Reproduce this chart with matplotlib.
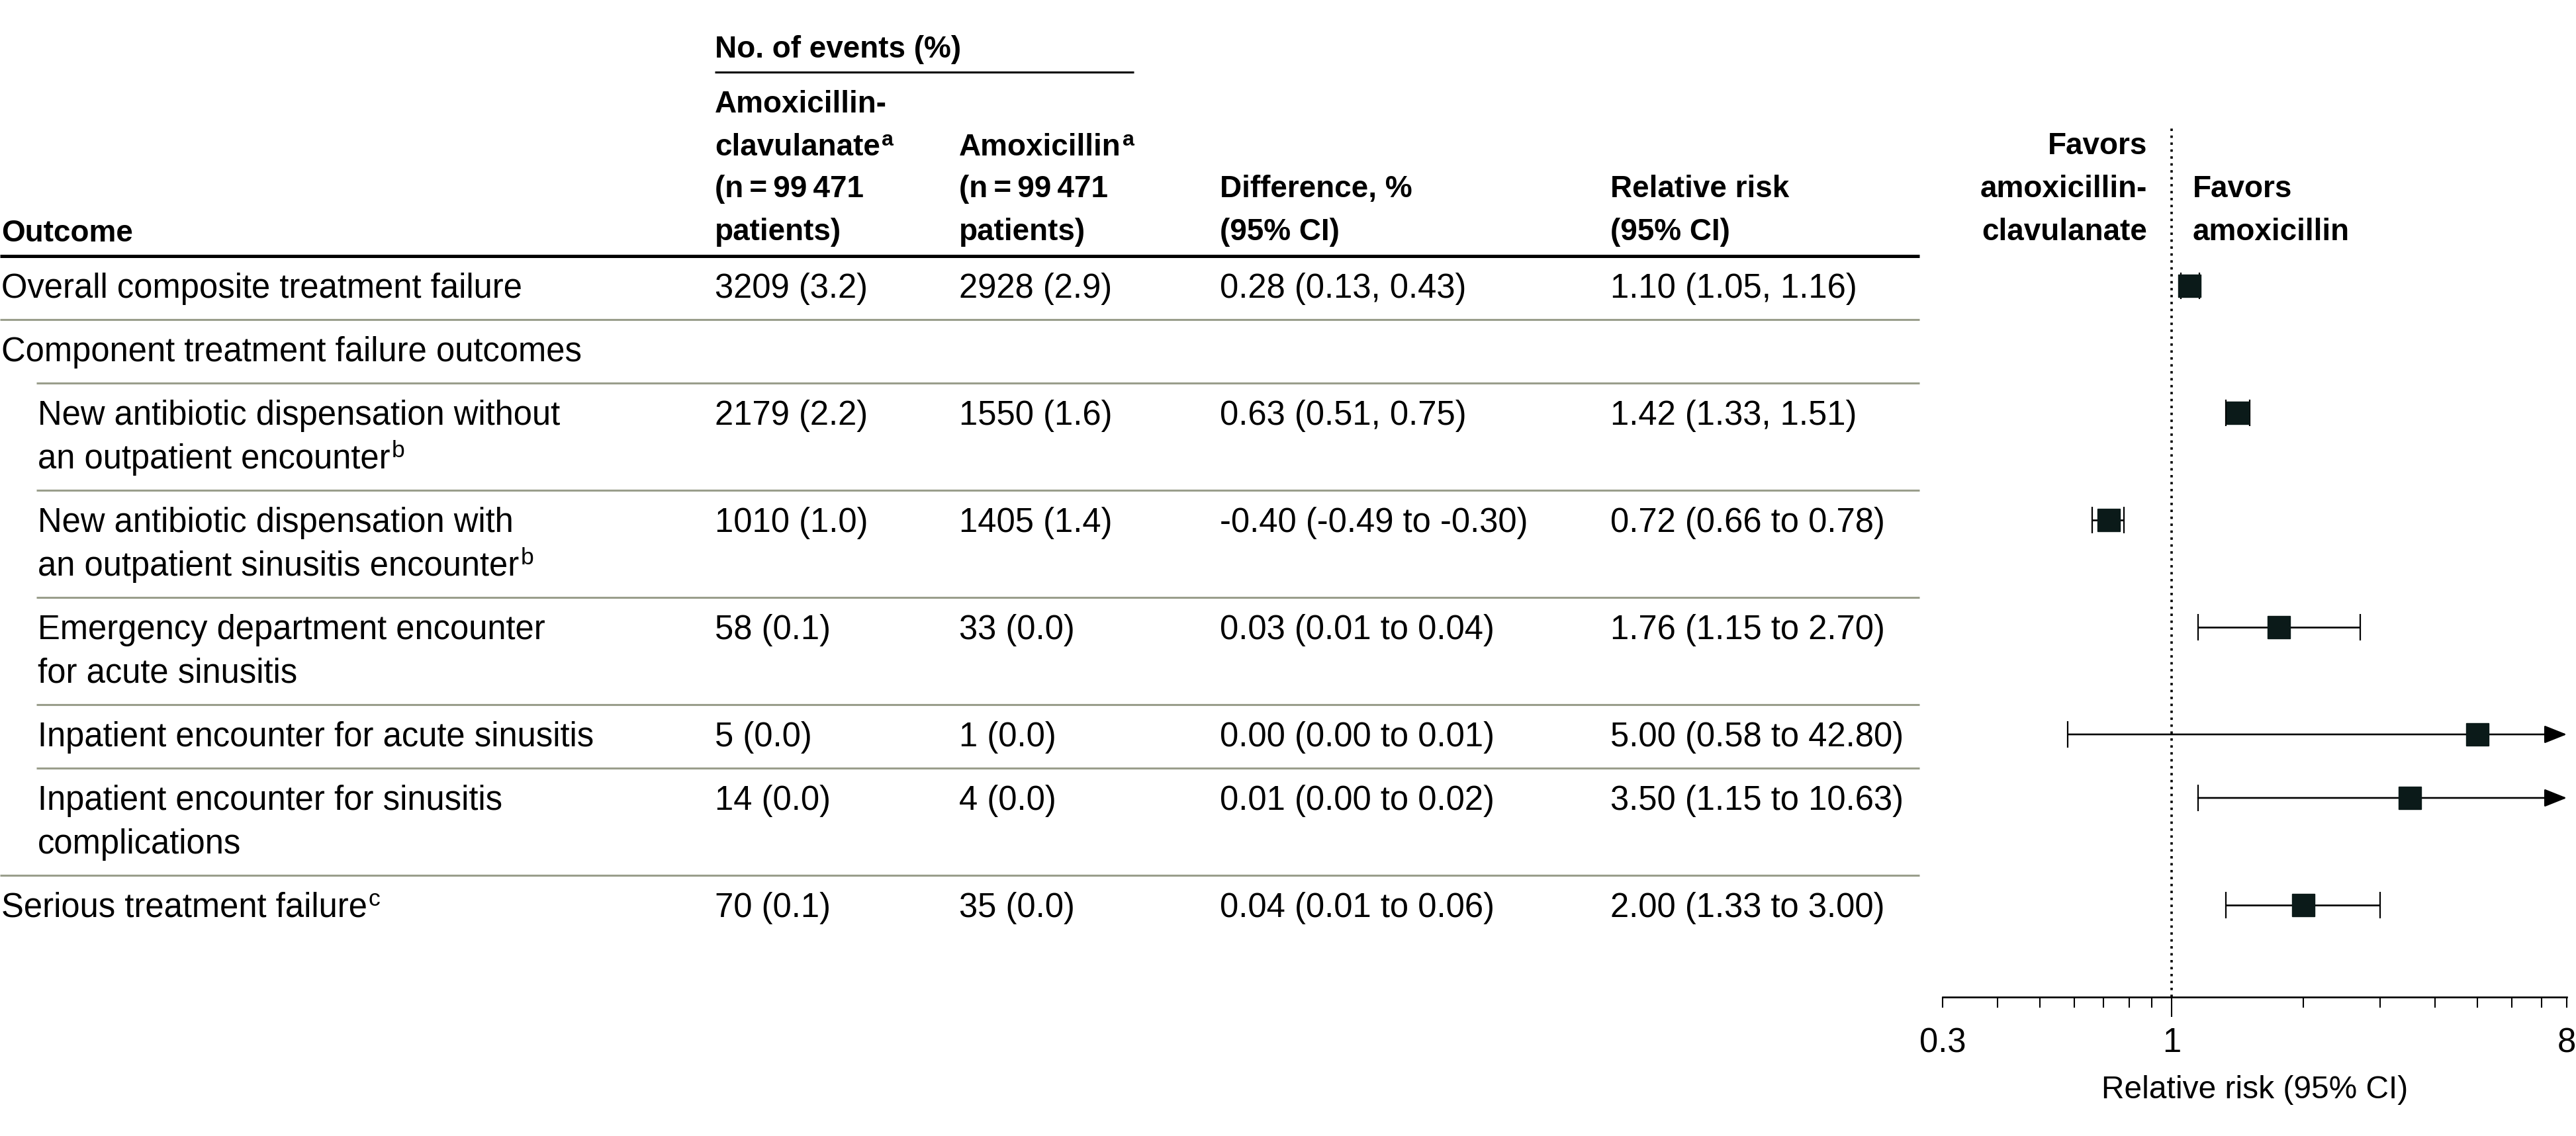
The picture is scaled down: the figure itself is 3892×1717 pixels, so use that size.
import numpy as np
import matplotlib
matplotlib.use("Agg")
import matplotlib.pyplot as plt
from matplotlib.lines import Line2D
from matplotlib.ticker import FixedLocator, FixedFormatter, NullFormatter

# ---------------- data ----------------
outcomes = [
    ["Overall composite treatment failure"],
    ["Component treatment failure outcomes"],
    ["New antibiotic dispensation without", "an outpatient encounter"],
    ["New antibiotic dispensation with", "an outpatient sinusitis encounter"],
    ["Emergency department encounter", "for acute sinusitis"],
    ["Inpatient encounter for acute sinusitis"],
    ["Inpatient encounter for sinusitis", "complications"],
    ["Serious treatment failure"],
]
outcome_indent = [0, 0, 1, 1, 1, 1, 1, 0]
outcome_sup = ["", "", "b", "b", "", "", "", "c"]

amoxclav_events = ["3209 (3.2)", "", "2179 (2.2)", "1010 (1.0)", "58 (0.1)",
                   "5 (0.0)", "14 (0.0)", "70 (0.1)"]
amox_events = ["2928 (2.9)", "", "1550 (1.6)", "1405 (1.4)", "33 (0.0)",
               "1 (0.0)", "4 (0.0)", "35 (0.0)"]
difference = ["0.28 (0.13, 0.43)", "", "0.63 (0.51, 0.75)",
              "-0.40 (-0.49 to -0.30)", "0.03 (0.01 to 0.04)",
              "0.00 (0.00 to 0.01)", "0.01 (0.00 to 0.02)",
              "0.04 (0.01 to 0.06)"]
rr_text = ["1.10 (1.05, 1.16)", "", "1.42 (1.33, 1.51)", "0.72 (0.66 to 0.78)",
           "1.76 (1.15 to 2.70)", "5.00 (0.58 to 42.80)",
           "3.50 (1.15 to 10.63)", "2.00 (1.33 to 3.00)"]
rr = [1.10, np.nan, 1.42, 0.72, 1.76, 5.00, 3.50, 2.00]
rr_lo = [1.05, np.nan, 1.33, 0.66, 1.15, 0.58, 1.15, 1.33]
rr_hi = [1.16, np.nan, 1.51, 0.78, 2.70, 42.80, 10.63, 3.00]

x_major = [0.3, 1, 8]
x_major_labels = ["0.3", "1", "8"]
x_minor = [0.4, 0.5, 0.6, 0.7, 0.8, 0.9, 2, 3, 4, 5, 6, 7]
x_limits = (0.3, 8)

# ---------------- style / layout ----------------
W, H, DPI = 3892, 1717, 100
plt.rcParams["font.family"] = ["Liberation Sans", "DejaVu Sans"]
BODY = 36.5
HEAD = 33
INK = "black"
SEP = "#9a9e8c"
MARK = "#0b1a19"

fig = plt.figure(figsize=(W / DPI, H / DPI), dpi=DPI)
renderer = fig.canvas.get_renderer()


def fx(x):
    return x / W


def fy(y):
    return 1 - y / H


def txt(x, y, s, size=BODY, weight="normal", ha="left", sup=None):
    t = fig.text(fx(x), fy(y), s, fontsize=size, fontweight=weight, ha=ha,
                 va="baseline", color=INK)
    if sup:
        bb = t.get_window_extent(renderer=renderer)
        fig.text((bb.x1 + 2) / W, fy(y - size / 0.72 * 0.33), sup,
                 fontsize=size * 0.7, fontweight=weight, ha="left",
                 va="baseline", color=INK)
    return t


def hline(x0, x1, y, lw, color):
    fig.add_artist(Line2D([fx(x0), fx(x1)], [fy(y), fy(y)],
                          transform=fig.transFigure, lw=lw, color=color,
                          solid_capstyle="butt"))


col_x = [2, 1080, 1449, 1843, 2433]
indent_px = 55
line_h = 66
table_right = 2900

# header
txt(col_x[1], 87, "No. of events (%)", size=HEAD, weight="bold")
hline(col_x[1], 1713, 109, 2.2, INK)
txt(col_x[1], 170, "Amoxicillin-", size=HEAD, weight="bold")
txt(col_x[1], 235, "clavulanate", size=HEAD, weight="bold", sup="a")
txt(col_x[1], 298, "(n\u2009=\u200999\u2009471", size=HEAD, weight="bold")
txt(col_x[1], 363, "patients)", size=HEAD, weight="bold")
txt(col_x[2], 235, "Amoxicillin", size=HEAD, weight="bold", sup="a")
txt(col_x[2], 298, "(n\u2009=\u200999\u2009471", size=HEAD, weight="bold")
txt(col_x[2], 363, "patients)", size=HEAD, weight="bold")
txt(col_x[0], 365, "Outcome", size=HEAD, weight="bold")
txt(col_x[3], 298, "Difference, %", size=HEAD, weight="bold")
txt(col_x[3], 363, "(95% CI)", size=HEAD, weight="bold")
txt(col_x[4], 298, "Relative risk", size=HEAD, weight="bold")
txt(col_x[4], 363, "(95% CI)", size=HEAD, weight="bold")
header_line_y = 387
hline(0, table_right, header_line_y, 3.6, INK)

# favors labels
txt(3244, 233, "Favors", size=HEAD, weight="bold", ha="right")
txt(3244, 298, "amoxicillin-", size=HEAD, weight="bold", ha="right")
txt(3244, 363, "clavulanate", size=HEAD, weight="bold", ha="right")
txt(3313, 298, "Favors", size=HEAD, weight="bold")
txt(3313, 363, "amoxicillin", size=HEAD, weight="bold")

# body rows
y_top = header_line_y
marker_y = []
for i, lines in enumerate(outcomes):
    if i > 0:
        hline(indent_px if outcome_indent[i] else 0, table_right, y_top, 2.2, SEP)
    base = y_top + 63
    x0 = col_x[0] + (indent_px if outcome_indent[i] else 0)
    for j, ln in enumerate(lines):
        last = j == len(lines) - 1
        txt(x0, base + j * line_h, ln, sup=outcome_sup[i] if last else None)
    txt(col_x[1], base, amoxclav_events[i])
    txt(col_x[2], base, amox_events[i])
    txt(col_x[3], base, difference[i])
    txt(col_x[4], base, rr_text[i])
    marker_y.append(base - 18)
    y_top += 96 + line_h * (len(lines) - 1)

# ---------------- forest plot ----------------
ax_l, ax_r, ax_t, ax_b = 2935, 3878, 193, 1507
ax = fig.add_axes([fx(ax_l), fy(ax_b), (ax_r - ax_l) / W, (ax_b - ax_t) / H])
ax.set_xscale("log")
ax.set_xlim(*x_limits)
ax.set_ylim(ax_b, ax_t)
ax.patch.set_alpha(0)
for s in ["left", "top", "right"]:
    ax.spines[s].set_visible(False)
ax.spines["bottom"].set_linewidth(1.9)
ax.yaxis.set_visible(False)
ax.xaxis.set_major_locator(FixedLocator(x_major))
ax.xaxis.set_major_formatter(FixedFormatter(x_major_labels))
ax.xaxis.set_minor_locator(FixedLocator(x_minor))
ax.xaxis.set_minor_formatter(NullFormatter())
ax.tick_params(axis="x", which="both", direction="out", length=11.5,
               width=1.5, color=INK)
ax.tick_params(axis="x", which="major", labelsize=BODY, pad=21)

ax.axvline(1, color=INK, lw=2.6, linestyle=(0, (1, 1.9)), zorder=1)

for i in range(len(rr)):
    if np.isnan(rr[i]):
        continue
    yc = marker_y[i]
    lo, hi = rr_lo[i], rr_hi[i]
    if hi > x_limits[1]:
        ax.annotate("", xy=(x_limits[1], yc), xytext=(lo, yc),
                    arrowprops=dict(arrowstyle="-|>,head_length=0.75,head_width=0.3",
                                    lw=1.9, color=INK, shrinkA=0, shrinkB=0,
                                    mutation_scale=28),
                    annotation_clip=False, zorder=3)
        caps = [lo]
    else:
        ax.plot([lo, hi], [yc, yc], color=INK, lw=1.9, solid_capstyle="butt",
                zorder=3)
        caps = [lo, hi]
    ax.plot(caps, [yc] * len(caps), ls="none", marker="|", ms=29, mew=1.6,
            color=INK, zorder=3)
    ax.plot([rr[i]], [yc], ls="none", marker="s", ms=24.5, color=MARK,
            mec=MARK, zorder=5)

fig.canvas.draw()
ticks = ax.xaxis.get_major_ticks()
ticks[1].tick1line.set_markersize(21.6)

txt((ax_l + ax_r) / 2, 1660, "Relative risk (95% CI)", size=34.5, ha="center")

fig.savefig("out.png", dpi=DPI, facecolor="white")
